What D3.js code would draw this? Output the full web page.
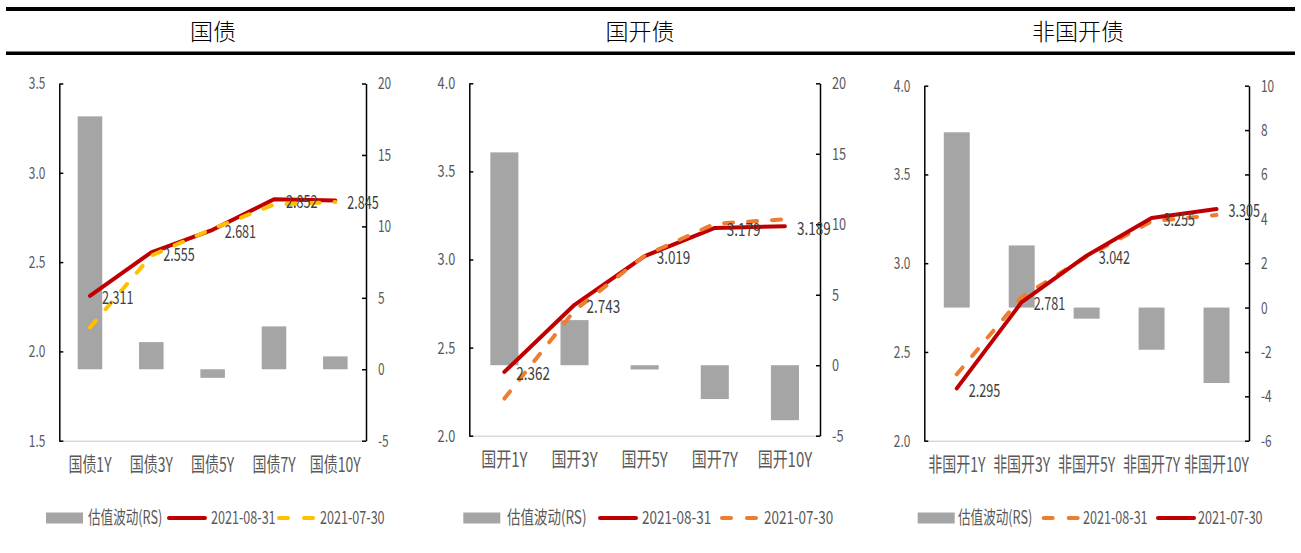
<!DOCTYPE html>
<html><head><meta charset="utf-8">
<script src="https://cdn.jsdelivr.net/npm/d3@7"></script>
<style>
body{margin:0;background:#fff;}
svg{display:block;}
text{font-family:"Noto Sans CJK SC","Noto Sans",sans-serif;}
</style>
</head><body>
<svg id="chart" width="1301" height="553"></svg>
<script>
// 国债
const gzCategories = ["国债1Y", "国债3Y", "国债5Y", "国债7Y", "国债10Y"];
const gzChange = [17.7, 1.9, -0.6, 3.0, 0.9];
const gz0831 = [2.311, 2.555, 2.681, 2.852, 2.845];
const gz0730 = [2.134, 2.536, 2.687, 2.822, 2.836];
const gzLeftTicks = [1.5, 2.0, 2.5, 3.0, 3.5];
const gzRightTicks = [-5, 0, 5, 10, 15, 20];

// 国开债
const gkCategories = ["国开1Y", "国开3Y", "国开5Y", "国开7Y", "国开10Y"];
const gkChange = [15.1, 3.2, -0.3, -2.4, -3.9];
const gk0831 = [2.362, 2.743, 3.019, 3.179, 3.189];
const gk0730 = [2.211, 2.711, 3.022, 3.203, 3.228];
const gkLeftTicks = [2.0, 2.5, 3.0, 3.5, 4.0];
const gkRightTicks = [-5, 0, 5, 10, 15, 20];

// 非国开债
const fgkCategories = ["非国开1Y", "非国开3Y", "非国开5Y", "非国开7Y", "非国开10Y"];
const fgkChange = [7.9, 2.8, -0.5, -1.9, -3.4];
const fgk0831 = [2.374, 2.809, 3.037, 3.236, 3.271];
const fgk0730 = [2.295, 2.781, 3.042, 3.255, 3.305];
const fgkLeftTicks = [2.0, 2.5, 3.0, 3.5, 4.0];
const fgkRightTicks = [-6, -4, -2, 0, 2, 4, 6, 8, 10];

const titles = ["国债", "国开债", "非国开债"];
const barName = "估值波动(RS)";

const RED = "#C00000", YELLOW = "#FFC000", ORANGE = "#ED7D31", GREY = "#A5A5A5";
const TICK_C = "#595959", LABEL_C = "#404040";

const svg = d3.select("#chart");

// header rules and titles
svg.append("rect").attr("x", 6).attr("y", 7).attr("width", 1289).attr("height", 4).attr("fill", "#000");
svg.append("rect").attr("x", 6).attr("y", 51.5).attr("width", 1289).attr("height", 3.5).attr("fill", "#000");
const titleX = [213, 640, 1078];
titles.forEach((t, i) => {
  svg.append("text").attr("x", titleX[i]).attr("y", 32).attr("dy", "0.35em")
    .attr("text-anchor", "middle").attr("font-size", 23).attr("font-weight", 300)
    .attr("fill", "#000").text(t);
});

const panels = [
  {
    cats: gzCategories, bars: gzChange, left: gzLeftTicks, right: gzRightTicks,
    box: {l: 59.3, r: 366, t: 83.5, b: 440.7}, sx: 0.7,
    series: [
      {name: "2021-08-31", values: gz0831, color: RED, dashed: false, labelled: true},
      {name: "2021-07-30", values: gz0730, color: YELLOW, dashed: true, labelled: false}
    ],
    legend: {rect: 46, t0: 88, l1: 167, t1: 211, l2: 277, t2: 320}
  },
  {
    cats: gkCategories, bars: gkChange, left: gkLeftTicks, right: gkRightTicks,
    box: {l: 469.3, r: 820, t: 83.3, b: 435.7}, sx: 0.75,
    series: [
      {name: "2021-08-31", values: gk0831, color: RED, dashed: false, labelled: true},
      {name: "2021-07-30", values: gk0730, color: ORANGE, dashed: true, labelled: false}
    ],
    legend: {rect: 463.3, t0: 507, l1: 598, t1: 642, l2: 720, t2: 764}
  },
  {
    cats: fgkCategories, bars: fgkChange, left: fgkLeftTicks, right: fgkRightTicks,
    box: {l: 924.3, r: 1249, t: 85.7, b: 440.7}, sx: 0.7,
    series: [
      {name: "2021-08-31", values: fgk0831, color: ORANGE, dashed: true, labelled: false},
      {name: "2021-07-30", values: fgk0730, color: RED, dashed: false, labelled: true}
    ],
    legend: {rect: 917.7, t0: 958, l1: 1041.7, t1: 1083, l2: 1156, t2: 1198}
  }
];

// place a text horizontally condensed around its anchor point
function squeeze(sel, sx) {
  sel.each(function () {
    const t = d3.select(this);
    const x = +t.attr("x") || 0;
    t.attr("x", 0).attr("transform", `translate(${x},0) scale(${sx},1)`);
  });
}

// integer ticks with a plain hyphen for negatives
const intFmt = d => String(Math.round(d));

panels.forEach(p => {
  const {l, r, t, b} = p.box;
  const g = svg.append("g");
  const x = d3.scaleBand().domain(p.cats).range([l, r]).paddingInner(0.6).paddingOuter(0.3);
  const yL = d3.scaleLinear().domain(d3.extent(p.left)).range([b, t]);
  const yR = d3.scaleLinear().domain(d3.extent(p.right)).range([b, t]);
  const cx = c => x(c) + x.bandwidth() / 2;

  // bars on the right axis
  g.append("g").selectAll("rect").data(p.bars).join("rect")
    .attr("x", (d, i) => x(p.cats[i]))
    .attr("width", x.bandwidth())
    .attr("y", d => Math.min(yR(0), yR(d)))
    .attr("height", d => Math.abs(yR(d) - yR(0)))
    .attr("fill", GREY);

  // category axis
  const xa = g.append("g").attr("transform", `translate(0,${b})`)
    .call(d3.axisBottom(x).tickSize(0).tickPadding(17));
  xa.select(".domain").attr("stroke", "#D9D9D9").attr("stroke-width", 1.5);
  xa.selectAll("text").attr("font-size", 20).attr("fill", TICK_C).attr("font-family", null);
  xa.selectAll(".tick text").call(squeeze, p.sx);

  // left axis
  const la = g.append("g").attr("transform", `translate(${l},0)`)
    .call(d3.axisLeft(yL).tickValues(p.left).tickFormat(d3.format(".1f")).tickSize(-4).tickSizeOuter(0).tickPadding(14));
  la.select(".domain").attr("stroke", "#000").attr("stroke-width", 1.5);
  la.selectAll(".tick line").attr("stroke", "#000").attr("stroke-width", 1.5);
  la.selectAll("text").attr("font-size", 17).attr("fill", TICK_C).attr("font-family", null);
  la.selectAll(".tick text").call(squeeze, p.sx);

  // right axis
  const ra = g.append("g").attr("transform", `translate(${r},0)`)
    .call(d3.axisRight(yR).tickValues(p.right).tickFormat(intFmt).tickSize(-4).tickSizeOuter(0).tickPadding(12));
  ra.select(".domain").attr("stroke", "#000").attr("stroke-width", 1.5);
  ra.selectAll(".tick line").attr("stroke", "#000").attr("stroke-width", 1.5);
  ra.selectAll("text").attr("font-size", 17).attr("fill", TICK_C).attr("font-family", null);
  ra.selectAll(".tick text").call(squeeze, p.sx);

  // yield curves
  const line = d3.line().x((d, i) => cx(p.cats[i])).y(d => yL(d));
  p.series.forEach(s => {
    g.append("path").datum(s.values).attr("d", line)
      .attr("fill", "none").attr("stroke", s.color).attr("stroke-width", 4)
      .attr("stroke-linejoin", "round").attr("stroke-linecap", "round")
      .attr("stroke-dasharray", s.dashed ? "9,15" : null);
  });

  // value labels
  p.series.filter(s => s.labelled).forEach(s => {
    g.append("g").selectAll("text").data(s.values).join("text")
      .attr("x", (d, i) => cx(p.cats[i]) + 12)
      .attr("y", d => yL(d) + 2).attr("dy", "0.35em")
      .attr("font-size", 18).attr("fill", LABEL_C)
      .text(d => d3.format(".3f")(d))
      .each(function () {
        const t = d3.select(this);
        const xx = +t.attr("x"), yy = +t.attr("y");
        t.attr("x", 0).attr("y", 0).attr("transform", `translate(${xx},${yy}) scale(${p.sx},1)`);
      });
  });

  // legend
  const lg = g.append("g").attr("transform", "translate(0,518)");
  const L = p.legend;
  lg.append("rect").attr("x", L.rect).attr("y", -5.5).attr("width", 37).attr("height", 11).attr("fill", GREY);
  const legText = (xx, txt) => lg.append("text").attr("x", xx).attr("y", 0).attr("dy", "0.35em")
    .attr("font-size", 18).attr("fill", TICK_C).text(txt).call(squeeze, p.sx);
  legText(L.t0, barName);
  const legLine = (xx, s) => {
    if (s.dashed) {
      [0, 25].forEach(o => lg.append("line").attr("x1", xx + o + 2).attr("x2", xx + o + 11)
        .attr("stroke", s.color).attr("stroke-width", 4).attr("stroke-linecap", "round"));
    } else {
      lg.append("line").attr("x1", xx + 2).attr("x2", xx + 38)
        .attr("stroke", s.color).attr("stroke-width", 4).attr("stroke-linecap", "round");
    }
  };
  legLine(L.l1, p.series[0]);
  legText(L.t1, p.series[0].name);
  legLine(L.l2, p.series[1]);
  legText(L.t2, p.series[1].name);
});
</script>
</body></html>
